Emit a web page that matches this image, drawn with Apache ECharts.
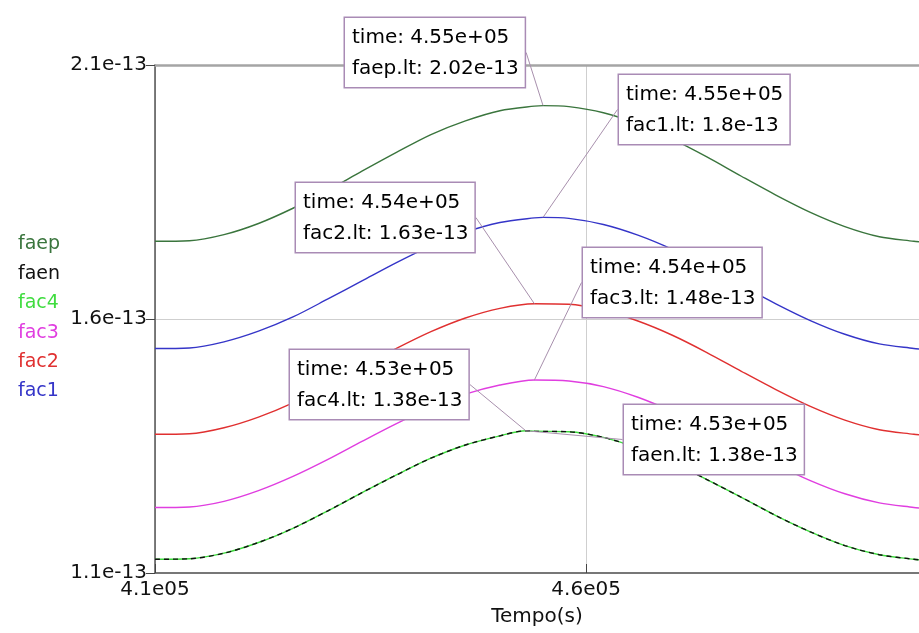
<!DOCTYPE html>
<html>
<head>
<meta charset="utf-8">
<script src="https://cdn.jsdelivr.net/npm/echarts@6/dist/echarts.min.js"></script>
<style>
  html, body { margin: 0; padding: 0; background: #fff; }
  #chart { width: 919px; height: 633px; }
</style>
</head>
<body>
<div id="chart"></div>
<script>
// tempo (s), amostrado
var times = [410000, 414000, 418000, 422000, 426000, 430000, 434000, 438000, 442000, 446000, 450000, 454000,
  458000, 462000, 466000, 470000, 474000, 478000, 482000, 486000, 490000, 494000, 498000, 498600];

// valores em unidades de 1e-13
var faep = [1.753, 1.754, 1.766, 1.788, 1.818, 1.853, 1.891, 1.928, 1.963, 1.990, 2.010, 2.019,
  2.018, 2.006, 1.984, 1.954, 1.919, 1.881, 1.844, 1.810, 1.782, 1.762, 1.753, 1.752];
var fac1 = [1.542, 1.543, 1.555, 1.576, 1.604, 1.639, 1.675, 1.711, 1.744, 1.771, 1.790, 1.799,
  1.798, 1.786, 1.765, 1.737, 1.703, 1.666, 1.630, 1.597, 1.570, 1.551, 1.542, 1.541];
var fac2 = [1.373, 1.374, 1.386, 1.407, 1.435, 1.470, 1.506, 1.542, 1.575, 1.602, 1.621, 1.630,
  1.629, 1.617, 1.596, 1.568, 1.534, 1.497, 1.461, 1.428, 1.401, 1.382, 1.373, 1.372];
var fac3 = [1.229, 1.230, 1.241, 1.262, 1.290, 1.323, 1.359, 1.394, 1.426, 1.452, 1.470, 1.479,
  1.478, 1.467, 1.446, 1.418, 1.385, 1.350, 1.314, 1.282, 1.256, 1.238, 1.229, 1.228];
var fac4 = [1.127, 1.128, 1.139, 1.160, 1.188, 1.222, 1.258, 1.293, 1.326, 1.352, 1.370, 1.379,
  1.378, 1.367, 1.346, 1.318, 1.284, 1.249, 1.213, 1.181, 1.154, 1.136, 1.127, 1.126];
var faen = [1.127, 1.128, 1.139, 1.160, 1.188, 1.222, 1.258, 1.293, 1.326, 1.352, 1.370, 1.379,
  1.378, 1.367, 1.346, 1.318, 1.284, 1.249, 1.213, 1.181, 1.154, 1.136, 1.127, 1.126];

// pontos marcados (cursor)
var peakNames = ['faep', 'fac1', 'fac2', 'fac3', 'fac4', 'faen'];
var peakTimes = [455000, 455000, 454000, 454000, 453000, 453000];
var peakValues = [2.02, 1.80, 1.63, 1.48, 1.38, 1.38];

var yTicks = [1.1, 1.6, 2.1];
var xTicks = [410000, 460000];

var legendNames = ['faep', 'faen', 'fac4', 'fac3', 'fac2', 'fac1'];
var colors = { faep: '#3a753d', faen: '#111111', fac4: '#3fdc3f', fac3: '#e03ee0', fac2: '#e03030', fac1: '#3535c8' };
var values = { faep: faep, faen: faen, fac4: fac4, fac3: fac3, fac2: fac2, fac1: fac1 };

// caixas das anotações (canto superior esquerdo, px)
var boxPos = [[345, 18], [619, 75], [296, 183], [583, 248], [290, 350], [624, 405]];

var FONT = 'DejaVu Sans';

function buildData(name) {
  var pts = times.map(function (t, i) { return [t, values[name][i]]; });
  var k = peakNames.indexOf(name);
  var pt = peakTimes[k], pv = peakValues[k];
  var found = false;
  pts.forEach(function (p) { if (p[0] === pt) { p[1] = pv; found = true; } });
  if (!found) pts.push([pt, pv]);
  pts.sort(function (a, b) { return a[0] - b[0]; });
  return pts;
}

function fmtTime(t) {
  var s = t.toExponential(2);
  return s.replace(/e\+(\d)$/, 'e+0$1');
}

var drawOrder = ['fac1', 'fac2', 'fac3', 'fac4', 'faen', 'faep'];
var series = drawOrder.map(function (name) {
  return {
    name: name,
    type: 'line',
    smooth: 0.3,
    symbol: 'none',
    data: buildData(name),
    lineStyle: {
      color: colors[name],
      width: 1.4,
      type: name === 'faen' ? [5, 4] : 'solid'
    },
    itemStyle: { color: colors[name] },
    z: 2
  };
});

series.push({
  name: 'cursor',
  type: 'scatter',
  symbol: 'circle',
  symbolSize: 0.5,
  itemStyle: { color: '#888', opacity: 1 },
  data: peakNames.map(function (n, i) { return [peakTimes[i], peakValues[i]]; }),
  z: 5,
  label: {
    show: true,
    formatter: function (p) {
      var i = p.dataIndex;
      return 'time: ' + fmtTime(peakTimes[i]) + '\n' + peakNames[i] + '.lt: ' +
        String(Number(peakValues[i].toPrecision(3))) + 'e-13';
    },
    fontFamily: FONT,
    fontSize: 20,
    lineHeight: 31,
    color: '#000',
    opacity: 1,
    backgroundColor: '#fff',
    borderColor: '#a98bb5',
    borderWidth: 1.5,
    padding: [4, 6, 3, 7]
  },
  labelLine: {
    show: true,
    lineStyle: { color: '#a890ad', width: 1 }
  },
  labelLayout: function (p) {
    var b = boxPos[p.dataIndex];
    return { x: b[0], y: b[1], align: 'left', verticalAlign: 'top', moveOverlap: false };
  }
});

var chart = echarts.init(document.getElementById('chart'));
chart.setOption({
  animation: false,
  backgroundColor: '#fff',
  legend: {
    orient: 'vertical',
    left: 8,
    top: 230,
    icon: 'none',
    itemWidth: 0,
    itemHeight: 19,
    itemGap: 10.4,
    selectedMode: false,
    textStyle: { fontFamily: FONT, fontSize: 19, lineHeight: 19 },
    data: legendNames.map(function (n) {
      return { name: n, textStyle: { color: colors[n] } };
    })
  },
  grid: { left: 155, right: 0, top: 65, bottom: 60 },
  xAxis: [{
    type: 'value',
    min: 410000,
    max: 498600,
    interval: 50000,
    name: 'Tempo(s)',
    nameLocation: 'middle',
    nameGap: 34,
    nameTextStyle: { fontFamily: FONT, fontSize: 20, color: '#111' },
    axisLine: { show: true, onZero: false, lineStyle: { color: '#777', width: 2 } },
    axisTick: { show: true, inside: true, length: 9, customValues: xTicks, lineStyle: { color: '#444' } },
    axisLabel: {
      customValues: xTicks,
      margin: 7,
      fontFamily: FONT,
      fontSize: 20,
      color: '#111',
      formatter: function (v) { return (v / 1e5).toFixed(1) + 'e05'; }
    },
    splitLine: { show: true, lineStyle: { color: '#cfcfcf', width: 1 } }
  }, {
    type: 'value',
    position: 'top',
    min: 410000,
    max: 498600,
    axisLine: { show: true, onZero: false, lineStyle: { color: '#a5a5a5', width: 2.5 } },
    axisTick: { show: false },
    axisLabel: { show: false },
    splitLine: { show: false }
  }],
  yAxis: {
    type: 'value',
    min: 1.1,
    max: 2.1,
    interval: 0.5,
    axisLine: { show: true, onZero: false, lineStyle: { color: '#555', width: 1.5 } },
    axisTick: { show: true, inside: false, length: 9, customValues: yTicks, lineStyle: { color: '#444' } },
    axisLabel: {
      customValues: yTicks,
      margin: 8,
      fontFamily: FONT,
      fontSize: 20,
      color: '#111',
      formatter: function (v) { return v.toFixed(1) + 'e-13'; }
    },
    splitLine: { show: true, lineStyle: { color: '#cfcfcf', width: 1 } }
  },
  series: series
});
</script>
</body>
</html>
